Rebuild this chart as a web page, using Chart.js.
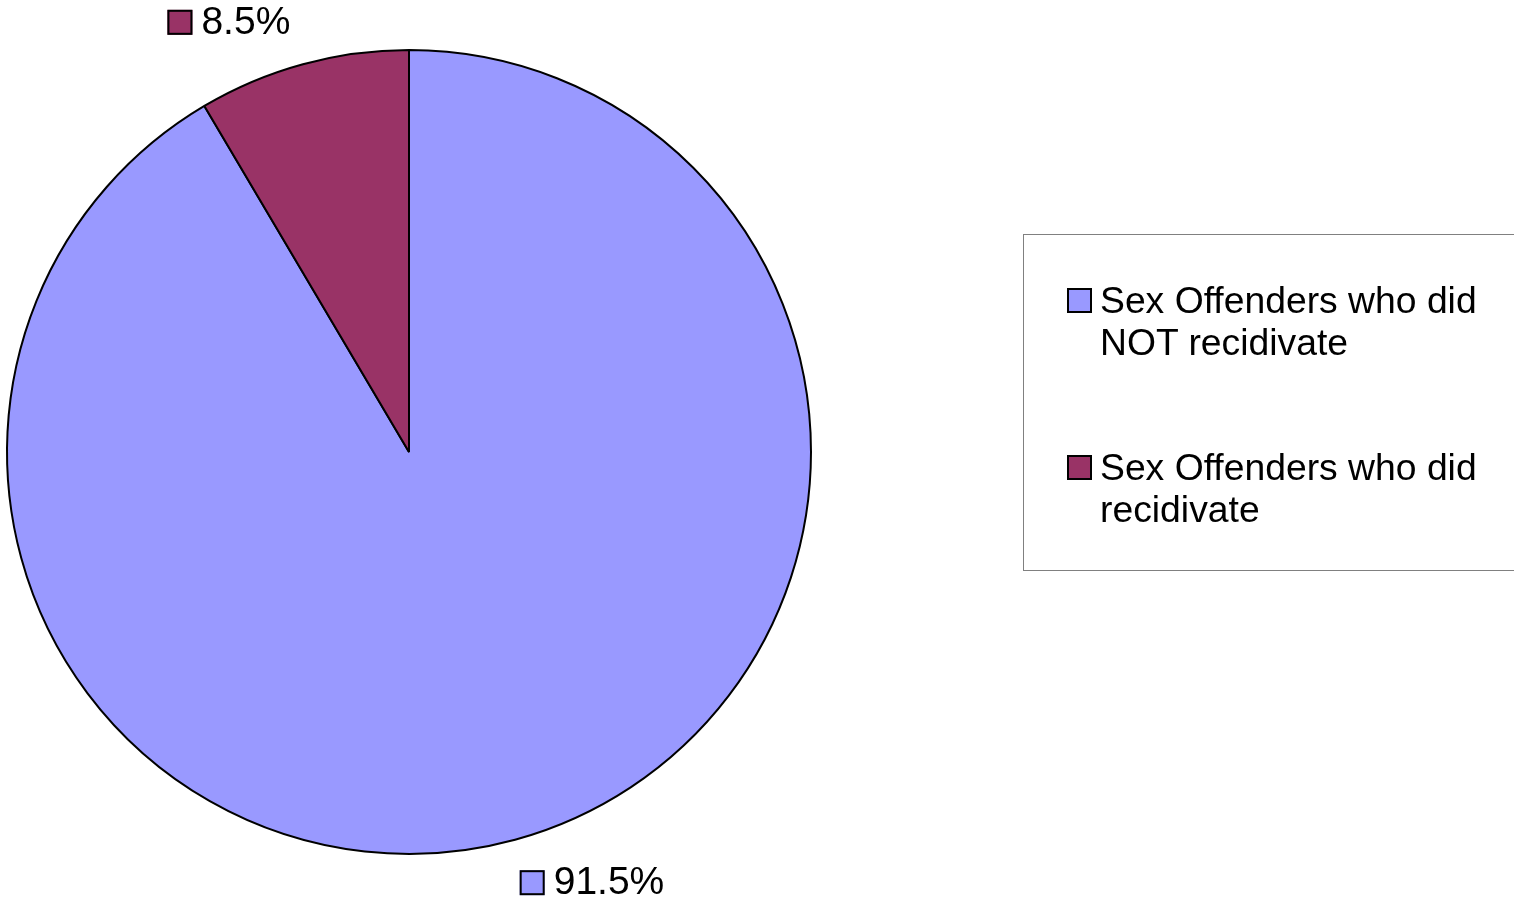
<!DOCTYPE html>
<html>
<head>
<meta charset="utf-8">
<script src="https://cdn.jsdelivr.net/npm/chart.js@4/dist/chart.umd.min.js"></script>
<style>
  html, body { margin: 0; padding: 0; background: #fff; }
  #wrap { position: relative; width: 1514px; height: 905px; overflow: hidden; }
  #pieChart { position: absolute; left: 0; top: 0; }
  #legend {
    position: absolute; left: 1023px; top: 234px; width: 520px; height: 337px;
    border: 1px solid #808080; box-sizing: border-box;
    font-family: "Liberation Sans", Arial, sans-serif; font-size: 37.3px; line-height: 42px; color: #000;
  }
  .item { position: absolute; left: 76px; width: 400px; }
  .item .box {
    position: absolute; left: -33px; top: 9px; width: 21px; height: 21px;
    border: 2px solid #000;
  }
</style>
</head>
<body>
<div id="wrap">
  <canvas id="pieChart" width="1514" height="905"></canvas>
  <div id="legend"></div>
</div>
<script>
// Data for the pie chart
const labels = ['Sex Offenders who did NOT recidivate', 'Sex Offenders who did recidivate'];
const legendLines = [['Sex Offenders who did', 'NOT recidivate'], ['Sex Offenders who did', 'recidivate']];
const values = [91.5, 8.5];
const colors = ['#9999FF', '#993366'];

// percentage labels outside the slices, with a small colour box
const outsideLabels = {
    id: 'outsideLabels',
    afterDatasetsDraw(chart) {
        const ctx = chart.ctx;
        const arcs = chart.getDatasetMeta(0).data;
        ctx.save();
        ctx.font = '39px "Liberation Sans", Arial, sans-serif';
        ctx.textBaseline = 'middle';
        arcs.forEach(function (arc, i) {
            const p = arc.getProps(['x', 'y', 'startAngle', 'endAngle', 'outerRadius'], true);
            const mid = (p.startAngle + p.endAngle) / 2;
            const r = p.outerRadius + 44;
            const px = p.x + Math.cos(mid) * r;
            const py = p.y + Math.sin(mid) * r;
            const text = values[i].toFixed(1) + '%';
            const tw = ctx.measureText(text).width;
            const blockW = 25 + 10 + tw;
            const left = Math.cos(mid) >= 0 ? px - 7 : px - blockW;
            ctx.fillStyle = colors[i];
            ctx.fillRect(left, py - 12, 25, 25);
            ctx.lineWidth = 2;
            ctx.strokeStyle = '#000';
            ctx.strokeRect(left + 1, py - 11, 23, 23);
            ctx.fillStyle = '#000';
            ctx.textAlign = 'left';
            ctx.fillText(text, left + 34, py + 1);
        });
        ctx.restore();
    }
};

const pieOptions = {
    type: 'pie',
    data: {
        labels: labels,
        datasets: [{
            data: values,
            backgroundColor: colors,
            borderColor: '#000',
            borderWidth: 2
        }]
    },
    options: {
        responsive: false,
        animation: false,
        layout: { padding: { left: 6, right: 702, top: 49, bottom: 50 } },
        plugins: {
            legend: { display: false },
            tooltip: { enabled: false }
        }
    },
    plugins: [outsideLabels]
};

// HTML legend built from the same arrays
const legend = document.getElementById('legend');
legendLines.forEach(function (lines, i) {
    const item = document.createElement('div');
    item.className = 'item';
    item.style.top = (i === 0 ? 44 : 211) + 'px';
    const box = document.createElement('span');
    box.className = 'box';
    box.style.background = colors[i];
    item.appendChild(box);
    lines.forEach(function (t) {
        const line = document.createElement('div');
        line.textContent = t;
        item.appendChild(line);
    });
    legend.appendChild(item);
});

new Chart(document.getElementById('pieChart'), pieOptions);
</script>
</body>
</html>
